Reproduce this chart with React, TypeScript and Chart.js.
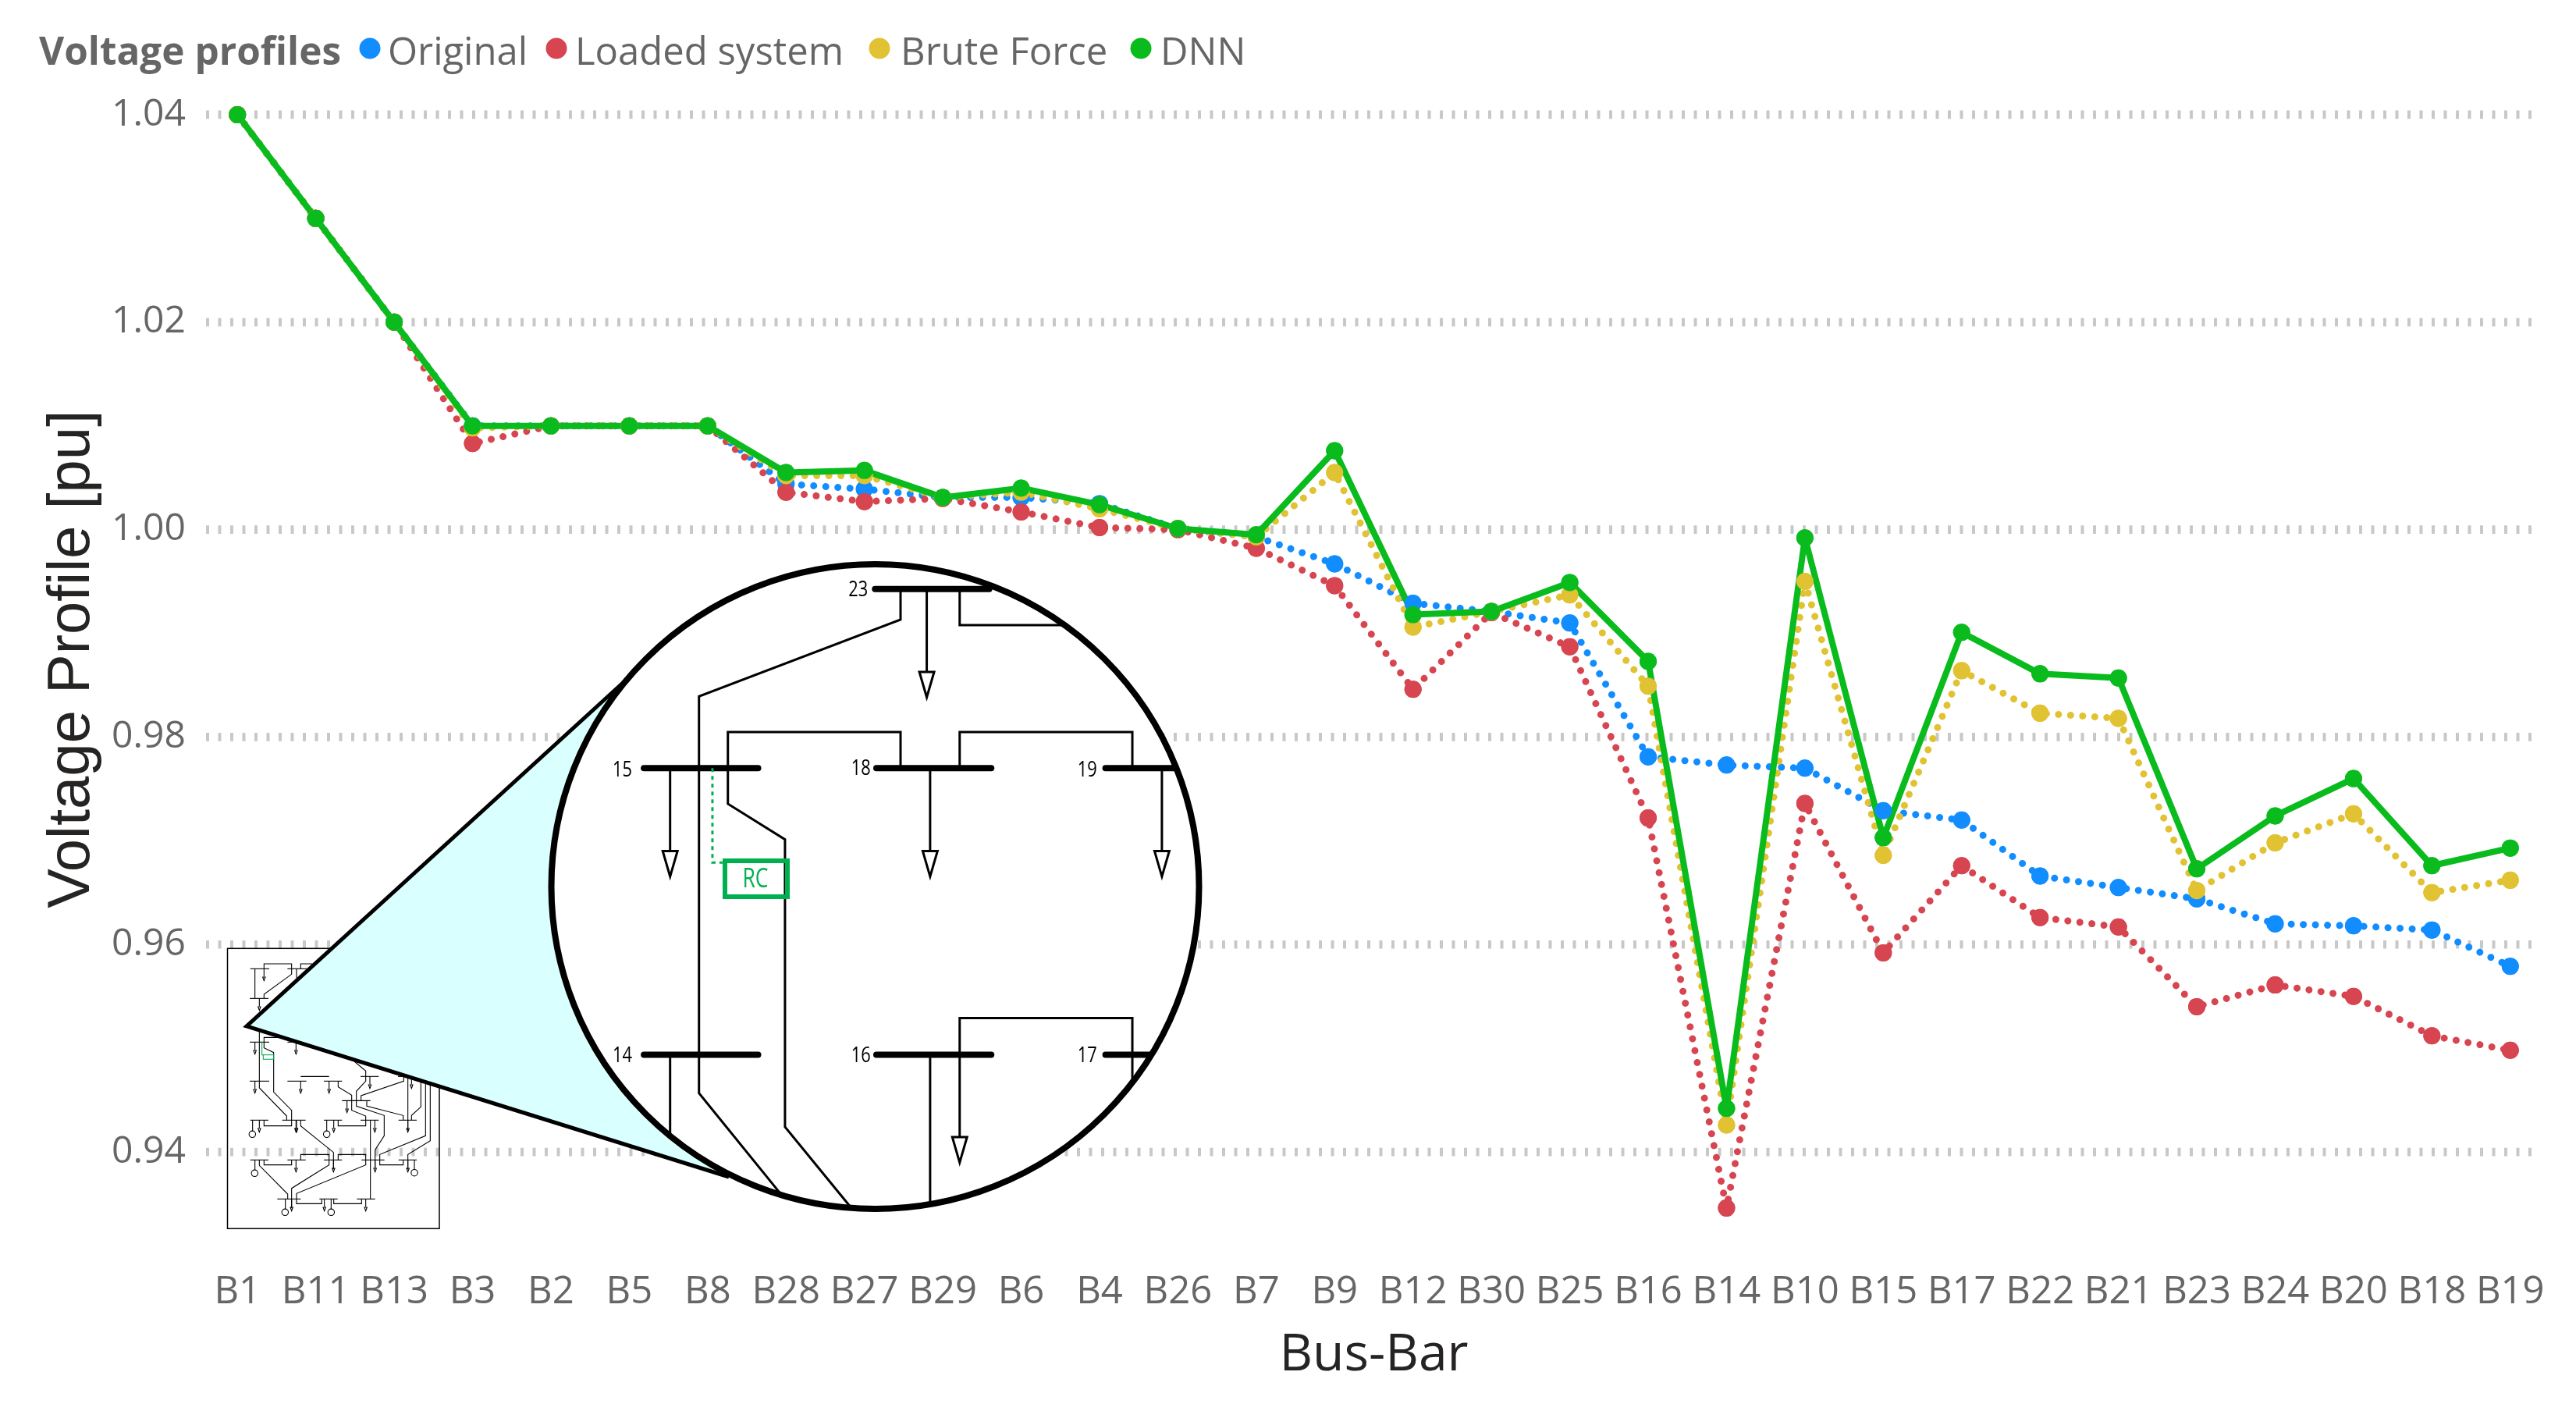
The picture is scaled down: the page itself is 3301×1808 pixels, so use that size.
import React, { useEffect, useRef } from "react";
import { Chart, registerables } from "chart.js";

Chart.register(...registerables);

const categories = ["B1","B11","B13","B3","B2","B5","B8","B28","B27","B29","B6","B4","B26","B7","B9","B12","B30","B25","B16","B14","B10","B15","B17","B22","B21","B23","B24","B20","B18","B19"];
const original = [1.04,1.03,1.02,1.01,1.01,1.01,1.01,1.0044,1.0039,1.0031,1.0031,1.0025,1.0001,0.9993,0.9967,0.9929,0.9921,0.991,0.9781,0.9773,0.977,0.9729,0.972,0.9666,0.9655,0.9644,0.962,0.9618,0.9614,0.9579];
const loaded = [1.04,1.03,1.02,1.0083,1.01,1.01,1.01,1.0036,1.0027,1.003,1.0017,1.0002,1.0,0.9982,0.9946,0.9846,0.992,0.9887,0.9722,0.9346,0.9736,0.9592,0.9676,0.9626,0.9617,0.954,0.9561,0.955,0.9512,0.9498];
const bruteForce = [1.04,1.03,1.02,1.0098,1.01,1.01,1.01,1.0052,1.0052,1.0031,1.0036,1.002,1.0001,0.9993,1.0055,0.9906,0.9921,0.9937,0.9849,0.9426,0.995,0.9686,0.9864,0.9823,0.9818,0.9652,0.9698,0.9726,0.965,0.9662];
const dnn = [1.04,1.03,1.02,1.01,1.01,1.01,1.01,1.0055,1.0057,1.0031,1.004,1.0024,1.0001,0.9995,1.0076,0.9918,0.9921,0.9949,0.9873,0.9442,0.9992,0.9703,0.9901,0.9861,0.9857,0.9673,0.9724,0.976,0.9676,0.9693];
const yTicks = [0.94,0.96,0.98,1.0,1.02,1.04];

const legendTitle = "Voltage profiles";
const seriesNames = ["Original","Loaded system","Brute Force","DNN"];
const seriesColors = ["#118DFF","#D64550","#E1C233","#0ABB1E"];
const legendDotX = [474,713,1127,1462];
const legendTextX = [497,737,1154,1487];

const FONT = '"Open Sans", "Noto Sans", sans-serif';
const GREY = "#666666";

// Illustration: small overview of the network (crop-pixel units / 3)
const overviewPaths: number[][] = [
  [212,124,285,124],[355,124,430,124],[210,238,282,238],[210,406,285,406],[355,406,420,406],
  [210,556,285,556],[355,556,428,556],[495,556,565,556],[636,538,706,538],[780,538,850,538],[565,631,674,631],
  [212,706,282,706],[335,706,425,706],[495,706,565,706],[636,706,706,706],[782,706,852,706],
  [212,859,282,859],[355,859,425,859],[495,859,565,859],[640,859,728,859],[782,859,852,859],
  [316,1009,406,1009],[478,1009,548,1009],[622,1009,692,1009],
  [230,124,230,238],[265,124,265,105,371,105,371,145,265,222,265,238],[390,124,390,160],[406,124,406,105,450,105],
  [247,345,247,582,352,690,352,706],[265,406,265,388,330,388],
  [265,406,265,428,302,446,302,598,371,668,371,728,265,728,265,706],
  [406,538,515,538],[550,556,550,578,602,610,602,668,656,690,656,728,550,728,550,706],
  [620,631,620,595,656,556,656,517,612,480],[620,631,620,652,727,688,727,766,692,820,692,890],
  [638,631,638,612,802,556,802,530],[660,631,660,652,800,688,800,706],
  [832,706,832,688,868,655,868,560],[886,560,886,766,710,838,710,878,800,878,800,859],
  [904,570,904,785,818,838,818,895],[674,706,674,1009],[818,540,818,745],
  [406,706,406,728,532,830,532,895],[265,859,265,878,371,878,371,859],[247,859,247,880,356,990,356,1009],
  [406,859,406,838,515,838,515,878,371,968,371,1045],[550,859,550,838,656,838,656,878,390,988,390,1009],
  [390,1009,390,1027,487,1027,487,1009],[533,1009,533,1027,640,1027,640,1009],
  [221,706,221,748],[506,706,506,748],[230,859,230,897],[843,859,843,897],[347,1009,347,1048],[523,1009,523,1048],
];
const overviewArrows: number[][] = [[265,124],[247,238],[230,406],[388,406],[230,556],[388,706],[406,556],[515,556],[584,631],[672,538],[832,538],[818,706],[691,706],[247,706],[390,706],[533,706],[388,859],[692,859],[532,859],[818,859],[497,1009],[656,1009],[371,1009]];
const overviewGens: number[][] = [[220,760],[506,760],[229,910],[843,908],[346,1060],[523,1060]];

// Illustration: magnified part of the network
const busBars: number[][] = [[1012,126,1182,126],[668,513,838,513],[1014,513,1185,513],[1355,513,1460,513],[668,1132,838,1132],[1014,1132,1185,1132],[1355,1132,1420,1132]];
const wires: number[][] = [
  [1050,126,1050,192,750,358,750,1215,870,1430],[1089,126,1089,305],[1138,126,1138,204,1290,204],
  [793,513,793,435,1050,435,1050,513],[793,513,793,590,878,667,878,1288,975,1460],
  [1138,513,1138,435,1395,435,1395,513],[707,513,707,692],[1094,513,1094,692],[1439,513,1439,692],
  [707,1132,707,1305],[1094,1132,1094,1450],[1138,1132,1138,1053,1395,1053,1395,1190],[1138,1132,1138,1310],
];
const arrows: number[][] = [[1089,305],[707,692],[1094,692],[1439,692],[1138,1310]];
const busLabels: [string, number, number][] = [["23",987,128],["15",636,517],["18",991,515],["19",1328,517],["14",636,1135],["16",991,1135],["17",1328,1135]];

const zx = (x: number) => x / 1.1615 + 250;
const zy = (y: number) => y / 1.686 + 680;
const ox = (x: number) => x / 3 + 250;
const oy = (y: number) => y / 3 + 1200;

function poly(ctx: CanvasRenderingContext2D, p: number[], fx: (n: number) => number, fy: (n: number) => number) {
  ctx.beginPath();
  for (let i = 0; i < p.length; i += 2) {
    if (i === 0) ctx.moveTo(fx(p[i]), fy(p[i + 1]));
    else ctx.lineTo(fx(p[i]), fy(p[i + 1]));
  }
  ctx.stroke();
}

function narrowText(ctx: CanvasRenderingContext2D, t: string, x: number, y: number) {
  ctx.save();
  ctx.translate(x, y);
  ctx.scale(0.78, 1);
  ctx.fillText(t, 0, 0);
  ctx.restore();
}

function drawInset(ctx: CanvasRenderingContext2D) {
  ctx.save();
  ctx.strokeStyle = "#000";
  ctx.setLineDash([]);
  // overview box
  ctx.lineWidth = 1.5;
  ctx.strokeRect(291.5, 1215.3, 271.5, 359);
  ctx.lineWidth = 1.1;
  overviewPaths.forEach((p) => poly(ctx, p, ox, oy));
  overviewArrows.forEach(([x, y]) => {
    ctx.beginPath();
    ctx.moveTo(ox(x), oy(y));
    ctx.lineTo(ox(x), oy(y + 30));
    ctx.stroke();
    ctx.beginPath();
    ctx.moveTo(ox(x - 5), oy(y + 32));
    ctx.lineTo(ox(x + 5), oy(y + 32));
    ctx.lineTo(ox(x), oy(y + 46));
    ctx.closePath();
    ctx.stroke();
  });
  overviewGens.forEach(([x, y]) => {
    ctx.beginPath();
    ctx.arc(ox(x), oy(y), 4.2, 0, Math.PI * 2);
    ctx.stroke();
  });
  ctx.strokeStyle = "#00B050";
  poly(ctx, [257, 406, 257, 455, 262, 455], ox, oy);
  ctx.strokeRect(ox(262), oy(455), 13.3, 5.6);
  ctx.strokeStyle = "#000";

  // wedge
  const tip = [316, 1315], up = [797, 876], low = [934, 1508];
  ctx.beginPath();
  ctx.moveTo(tip[0], tip[1]);
  ctx.lineTo(up[0], up[1]);
  ctx.lineTo(low[0], low[1]);
  ctx.closePath();
  ctx.fillStyle = "#D9FFFF";
  ctx.fill();
  ctx.lineWidth = 5;
  ctx.beginPath();
  ctx.moveTo(up[0], up[1]);
  ctx.lineTo(tip[0], tip[1]);
  ctx.lineTo(low[0], low[1]);
  ctx.stroke();

  // lens
  const cx = 1121.5, cy = 1136, rx = 415, ry = 413;
  ctx.beginPath();
  ctx.ellipse(cx, cy, rx, ry, 0, 0, Math.PI * 2);
  ctx.fillStyle = "#FFFFFF";
  ctx.fill();
  ctx.save();
  ctx.beginPath();
  ctx.ellipse(cx, cy, rx, ry, 0, 0, Math.PI * 2);
  ctx.clip();
  ctx.lineWidth = 3;
  wires.forEach((p) => poly(ctx, p, zx, zy));
  ctx.lineCap = "round";
  ctx.lineWidth = 8;
  busBars.forEach((p) => poly(ctx, p, zx, zy));
  ctx.lineCap = "butt";
  ctx.lineWidth = 3;
  arrows.forEach(([x, y]) => {
    ctx.beginPath();
    ctx.moveTo(zx(x - 11), zy(y));
    ctx.lineTo(zx(x + 11), zy(y));
    ctx.lineTo(zx(x), zy(y + 55));
    ctx.closePath();
    ctx.fillStyle = "#FFFFFF";
    ctx.fill();
    ctx.stroke();
  });
  // RC
  ctx.strokeStyle = "#00B050";
  ctx.lineWidth = 3;
  ctx.setLineDash([5, 5]);
  ctx.beginPath();
  ctx.moveTo(zx(770), zy(513));
  ctx.lineTo(zx(770), zy(717));
  ctx.lineTo(zx(785), zy(717));
  ctx.stroke();
  ctx.setLineDash([]);
  ctx.lineWidth = 6;
  ctx.strokeRect(929, 1103, 80, 46);
  ctx.fillStyle = "#00B050";
  ctx.font = `34px ${FONT}`;
  ctx.textAlign = "center";
  ctx.textBaseline = "middle";
  narrowText(ctx, "RC", 968, 1127);
  ctx.fillStyle = "#000";
  ctx.font = `28px ${FONT}`;
  busLabels.forEach(([t, x, y]) => narrowText(ctx, t, zx(x), zy(y)));
  ctx.restore();
  ctx.lineWidth = 8;
  ctx.strokeStyle = "#000";
  ctx.beginPath();
  ctx.ellipse(cx, cy, rx, ry, 0, 0, Math.PI * 2);
  ctx.stroke();
  ctx.restore();
}

const backdrop = {
  id: "backdrop",
  beforeDatasetsDraw(chart: any) {
    const ctx = chart.ctx;
    const y = chart.scales.y;
    ctx.save();
    ctx.strokeStyle = "#C8C8C8";
    ctx.lineWidth = 10.7;
    ctx.setLineDash([4, 11.5]);
    y.ticks.forEach((t: any) => {
      const py = y.getPixelForValue(t.value);
      ctx.beginPath();
      ctx.moveTo(264, py);
      ctx.lineTo(3250, py);
      ctx.stroke();
    });
    ctx.restore();
    drawInset(ctx);
  },
  afterDatasetsDraw(chart: any) {
    // markers sit above every line, in series order
    chart.data.datasets.forEach((_: any, i: number) => {
      chart.getDatasetMeta(i).data.forEach((p: any) => p.draw(chart.ctx));
    });
  },
  afterDraw(chart: any) {
    const ctx = chart.ctx;
    ctx.save();
    ctx.textBaseline = "alphabetic";
    ctx.textAlign = "left";
    ctx.fillStyle = GREY;
    ctx.font = `bold 49.5px ${FONT}`;
    ctx.fillText(legendTitle, 50, 83);
    ctx.font = `49px ${FONT}`;
    seriesNames.forEach((name, i) => {
      ctx.fillStyle = seriesColors[i];
      ctx.beginPath();
      ctx.arc(legendDotX[i], 62, 13.5, 0, Math.PI * 2);
      ctx.fill();
      ctx.fillStyle = GREY;
      ctx.fillText(name, legendTextX[i], 83);
    });
    ctx.restore();
  },
};

function series(i: number, values: number[], solid: boolean) {
  return {
    label: seriesNames[i],
    data: values,
    order: 3 - i,
    borderColor: seriesColors[i],
    backgroundColor: seriesColors[i],
    borderWidth: solid ? 8 : 9,
    borderDash: solid ? [] : [0.01, 15.5],
    borderCapStyle: solid ? "butt" : "round",
    borderJoinStyle: "round",
    tension: 0,
    pointRadius: 11,
    pointBorderWidth: 0,
    pointBackgroundColor: seriesColors[i],
    pointHoverRadius: 11,
  };
}

export default function App() {
  const ref = useRef<HTMLCanvasElement>(null);
  useEffect(() => {
    document.body.style.margin = "0";
    const chart = new Chart(ref.current!, {
      type: "line",
      data: {
        labels: categories,
        datasets: [
          series(0, original, false),
          series(1, loaded, false),
          series(2, bruteForce, false),
          series(3, dnn, true),
        ] as any,
      },
      plugins: [backdrop],
      options: {
        responsive: false,
        maintainAspectRatio: false,
        animation: false,
        devicePixelRatio: 1,
        layout: { padding: { top: 80.5, right: 34, left: 0, bottom: 0 } },
        plugins: { legend: { display: false }, tooltip: { enabled: false } },
        scales: {
          x: {
            type: "category",
            offset: true,
            border: { display: false },
            grid: { display: false, drawTicks: false },
            ticks: { color: GREY, font: { family: FONT, size: 49 }, padding: 18, maxRotation: 0, autoSkip: false },
            title: {
              display: true,
              text: "Bus-Bar",
              color: "#252423",
              font: { family: FONT, size: 66 },
              padding: { top: 0, bottom: 31 },
            },
            afterFit: (s: any) => { s.height = 199; },
          },
          y: {
            min: 0.93,
            max: 1.045,
            border: { display: false },
            grid: { display: false, drawTicks: false },
            afterBuildTicks: (s: any) => { s.ticks = yTicks.map((value) => ({ value })); },
            ticks: {
              color: GREY,
              font: { family: FONT, size: 48 },
              padding: 16,
              callback: (v: any) => Number(v).toFixed(2),
            },
            title: {
              display: true,
              text: "Voltage Profile [pu]",
              color: "#252423",
              font: { family: '"Liberation Sans", Arial, sans-serif', size: 76 },
              padding: { top: 47, bottom: 0 },
            },
            afterFit: (s: any) => { s.width = 254; },
          },
        },
      },
    });
    return () => chart.destroy();
  }, []);
  return <canvas ref={ref} width={3301} height={1808} style={{ display: "block", width: 3301, height: 1808 }} />;
}
